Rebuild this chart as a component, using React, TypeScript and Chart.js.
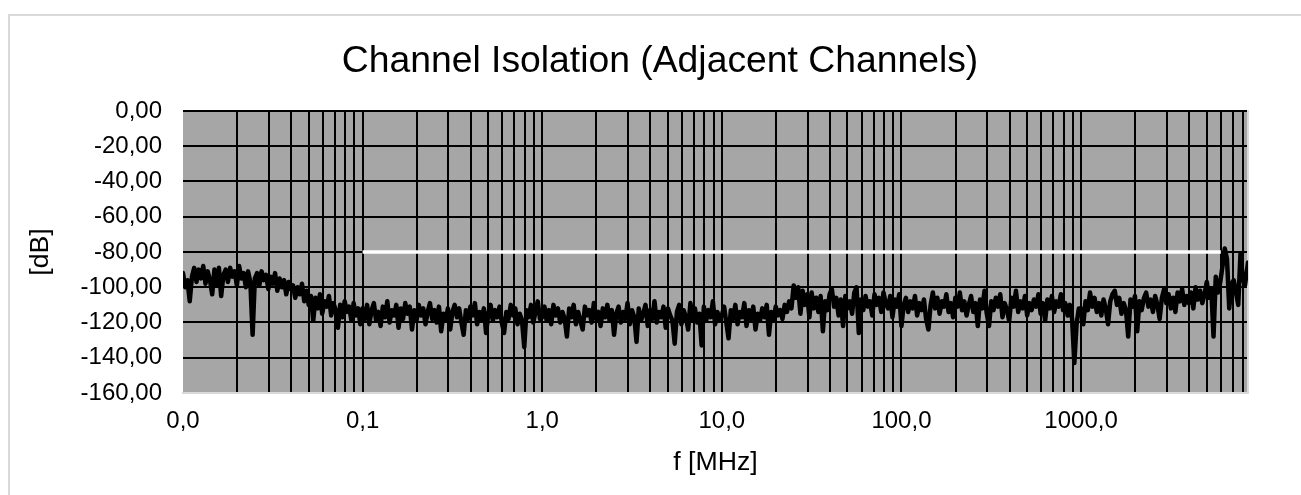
import React, { useEffect, useRef } from 'react';
import { Chart, registerables } from 'chart.js';

Chart.register(...registerables);

const chartTitle = 'Channel Isolation (Adjacent Channels)';
const xAxisTitle = 'f [MHz]';
const yAxisTitle = '[dB]';

// log sweep: 80 points per decade (mantissas of each decade start)
const sweepMantissas = [
  1.000, 1.029, 1.059, 1.090, 1.122, 1.155, 1.189, 1.223, 1.259, 1.296,
  1.334, 1.372, 1.413, 1.454, 1.496, 1.540, 1.585, 1.631, 1.679, 1.728,
  1.778, 1.830, 1.884, 1.939, 1.995, 2.054, 2.113, 2.175, 2.239, 2.304,
  2.371, 2.441, 2.512, 2.585, 2.661, 2.738, 2.818, 2.901, 2.985, 3.073,
  3.162, 3.255, 3.350, 3.447, 3.548, 3.652, 3.758, 3.868, 3.981, 4.097,
  4.217, 4.340, 4.467, 4.597, 4.732, 4.870, 5.012, 5.158, 5.309, 5.464,
  5.623, 5.788, 5.957, 6.131, 6.310, 6.494, 6.683, 6.879, 7.079, 7.286,
  7.499, 7.718, 7.943, 8.175, 8.414, 8.660, 8.913, 9.173, 9.441, 9.716,
];
const decadeStartsMHz = [0.01, 0.1, 1, 10, 100, 1000];

// isolation [dB], one array per decade
const isolation_0_01MHz = [
  -92, -100, -96, -108, -94, -89, -97, -90, -95, -88,
  -98, -91, -96, -104, -90, -99, -89, -105, -93, -90,
  -97, -89, -94, -91, -99, -88, -95, -92, -100, -91,
  -97, -127, -95, -92, -99, -91, -96, -93, -101, -94,
  -98, -92, -102, -95, -100, -96, -104, -97, -101, -99,
  -106, -100, -104, -98, -108, -102, -110, -105, -119, -106,
  -112, -104, -115, -108, -111, -105, -116, -109, -113, -123,
  -110, -117, -108, -114, -111, -119, -109, -116, -112, -121,
];
const isolation_0_1MHz = [
  -112, -118, -110, -121, -113, -109, -119, -114, -122, -111,
  -117, -108, -120, -113, -116, -110, -123, -112, -118, -109,
  -115, -111, -124, -113, -119, -110, -116, -112, -121, -114,
  -109, -118, -113, -120, -111, -125, -115, -119, -112, -124,
  -114, -110, -117, -112, -120, -127, -113, -118, -111, -116,
  -109, -121, -114, -118, -112, -126, -115, -110, -119, -113,
  -117, -111, -120, -126, -114, -118, -110, -116, -112, -121,
  -115, -119, -134, -113, -117, -110, -120, -114, -108, -118,
];
const isolation_1MHz = [
  -117, -111, -119, -113, -121, -110, -116, -112, -120, -114,
  -118, -128, -112, -117, -110, -121, -114, -119, -124, -111,
  -116, -113, -120, -109, -118, -114, -122, -112, -117, -110,
  -119, -113, -127, -115, -111, -120, -114, -118, -109, -121,
  -113, -117, -131, -112, -119, -115, -110, -122, -113, -118,
  -108, -120, -114, -117, -111, -123, -112, -116, -119, -132,
  -114, -110, -121, -113, -117, -124, -109, -118, -112, -120,
  -115, -133, -111, -119, -113, -117, -108, -121, -114, -118,
];
const isolation_10MHz = [
  -116, -111, -120, -129, -113, -118, -110, -121, -114, -117,
  -109, -122, -113, -118, -111, -124, -115, -119, -112, -117,
  -110, -127, -114, -119, -111, -116, -113, -118, -110, -114,
  -108, -112, -99, -106, -100, -115, -102, -110, -104, -117,
  -103, -112, -106, -114, -105, -125, -108, -113, -104, -101,
  -111, -106, -116, -107, -122, -105, -112, -108, -115, -103,
  -100, -126, -107, -113, -105, -111, -108, -116, -104, -110,
  -106, -114, -103, -109, -112, -105, -117, -107, -111, -104,
];
const isolation_100MHz = [
  -122, -110, -106, -114, -108, -112, -105, -116, -109, -113,
  -107, -118, -124, -110, -103, -112, -106, -115, -108, -111,
  -104, -114, -109, -117, -106, -111, -103, -113, -108, -116,
  -110, -105, -114, -109, -122, -107, -112, -102, -115, -122,
  -108, -113, -106, -111, -104, -117, -109, -113, -119, -106,
  -111, -102, -114, -108, -112, -105, -116, -109, -113, -107,
  -111, -104, -115, -109, -119, -107, -112, -105, -114, -108,
  -111, -104, -113, -109, -116, -110, -118, -143, -121, -112,
];
const isolation_1000MHz = [
  -112, -121, -108, -113, -103, -111, -106, -114, -109, -116,
  -107, -112, -121, -108, -104, -102, -110, -106, -115, -109,
  -113, -128, -107, -111, -105, -125, -108, -113, -106, -103,
  -111, -107, -114, -105, -110, -118, -106, -101, -109, -104,
  -112, -106, -114, -103, -108, -101, -110, -105, -109, -103,
  -112, -100, -107, -102, -109, -104, -97, -106, -101, -128,
  -94, -103, -97, -88, -78, -84, -112, -98, -96, -103,
  -110, -81, -95, -99,
];
const isolationDecades = [
  isolation_0_01MHz, isolation_0_1MHz, isolation_1MHz,
  isolation_10MHz, isolation_100MHz, isolation_1000MHz,
];
const sweepEndMHz = 8500;
const sweepEndDb = -86;

// white limit line
const limitFreqsMHz = [0.1, 6000];
const limitDb = [-80, -80];

// axes
const xMinMHz = 0.01;
const xMaxMHz = 8500;
const xGridMantissas = [1, 2, 3, 4, 5, 6, 7, 8, 9];
const xTickLabels = ['0,0', '0,1', '1,0', '10,0', '100,0', '1000,0'];
const yTickValues = [-160, -140, -120, -100, -80, -60, -40, -20, 0];
const yTickLabels = ['-160,00', '-140,00', '-120,00', '-100,00', '-80,00', '-60,00', '-40,00', '-20,00', '0,00'];

const FONT = "'Liberation Sans', Arial, Helvetica, sans-serif";

const tracePoints: { x: number; y: number }[] = [];
decadeStartsMHz.forEach((d, i) => {
  isolationDecades[i].forEach((db, k) => {
    tracePoints.push({ x: +(sweepMantissas[k] * d).toPrecision(4), y: db });
  });
});
tracePoints.push({ x: sweepEndMHz, y: sweepEndDb });

const limitPoints = limitFreqsMHz.map((f, i) => ({ x: f, y: limitDb[i] }));

const xGridValues: number[] = [];
decadeStartsMHz.forEach((d) => {
  xGridMantissas.forEach((m) => {
    const v = +(m * d).toPrecision(6);
    if (v >= xMinMHz && v < xMaxMHz) xGridValues.push(v);
  });
});

const plotBackground = {
  id: 'plotBackground',
  beforeDraw(chart: any) {
    const { ctx, chartArea: a } = chart;
    ctx.save();
    ctx.fillStyle = '#a6a6a6';
    ctx.fillRect(a.left, a.top, a.right - a.left, a.bottom - a.top);
    ctx.restore();
  },
};

export default function App() {
  const ref = useRef<HTMLCanvasElement | null>(null);

  useEffect(() => {
    if (!ref.current) return;
    const chart = new Chart(ref.current, {
      type: 'line',
      data: {
        datasets: [
          {
            label: 'Isolation',
            data: tracePoints,
            borderColor: '#000000',
            borderWidth: 4.5,
            pointRadius: 0,
            borderJoinStyle: 'round',
            borderCapStyle: 'round',
            tension: 0,
          },
          {
            label: 'Limit',
            data: limitPoints,
            borderColor: '#ffffff',
            borderWidth: 3.5,
            pointRadius: 0,
            tension: 0,
          },
        ],
      },
      options: {
        responsive: false,
        animation: false,
        devicePixelRatio: 1,
        layout: { padding: { left: 19, right: 0, top: 0, bottom: 0 } },
        plugins: {
          legend: { display: false },
          tooltip: { enabled: false },
          title: {
            display: true,
            text: chartTitle,
            color: '#000000',
            font: { family: FONT, size: 37.3, weight: 'normal' },
            padding: { top: 39.6, bottom: 26.6 },
          },
        },
        scales: {
          x: {
            type: 'logarithmic',
            min: xMinMHz,
            max: xMaxMHz,
            afterBuildTicks: (s: any) => {
              s.ticks = xGridValues.map((v) => ({ value: v }));
            },
            afterFit: (s: any) => {
              s.height = 102;
            },
            grid: {
              color: (c: any) =>
                c.tick && Math.abs(c.tick.value - xMinMHz) < 1e-9 ? 'rgba(0,0,0,0)' : '#000000',
              lineWidth: 2,
              drawTicks: false,
            },
            border: { display: true, color: '#d9d9d9', width: 2 },
            ticks: {
              autoSkip: false,
              maxRotation: 0,
              minRotation: 0,
              padding: 14,
              color: '#000000',
              font: { family: FONT, size: 24 },
              callback: (value: any) => {
                const i = decadeStartsMHz.findIndex((d) => Math.abs(d - Number(value)) / d < 1e-6);
                return i >= 0 ? xTickLabels[i] : '';
              },
            },
            title: {
              display: true,
              text: xAxisTitle,
              color: '#000000',
              font: { family: FONT, size: 26.7 },
              padding: { top: 0, bottom: 16 },
            },
          },
          y: {
            type: 'linear',
            min: -160,
            max: 0,
            afterBuildTicks: (s: any) => {
              s.ticks = yTickValues.map((v) => ({ value: v }));
            },
            afterFit: (s: any) => {
              s.width = 164;
            },
            grid: {
              color: (c: any) => (c.tick && c.tick.value === -160 ? 'rgba(0,0,0,0)' : '#000000'),
              lineWidth: 2,
              drawTicks: false,
            },
            border: { display: false },
            ticks: {
              autoSkip: false,
              padding: 21,
              color: '#000000',
              font: { family: FONT, size: 24 },
              callback: (value: any) => {
                const i = yTickValues.indexOf(Number(value));
                return i >= 0 ? yTickLabels[i] : '';
              },
            },
            title: {
              display: true,
              text: yAxisTitle,
              color: '#000000',
              font: { family: FONT, size: 26.7 },
              padding: { top: 6, bottom: 0 },
            },
          },
          edge: {
            type: 'linear',
            position: 'right',
            display: true,
            grid: { display: false, drawTicks: false },
            ticks: { display: false },
            border: { display: true, color: '#d9d9d9', width: 2 },
            afterFit: (s: any) => {
              s.width = 53;
            },
          },
        },
      } as any,
      plugins: [plotBackground],
    });
    return () => chart.destroy();
  }, []);

  return (
    <>
      <div
        style={{
          position: 'fixed',
          left: 8,
          top: 14,
          width: 1400,
          height: 600,
          border: '2px solid #d9d9d9',
          background: '#ffffff',
        }}
      />
      <canvas
        ref={ref}
        width={1301}
        height={495}
        style={{ position: 'fixed', left: 0, top: 0, width: 1301, height: 495 }}
      />
    </>
  );
}
